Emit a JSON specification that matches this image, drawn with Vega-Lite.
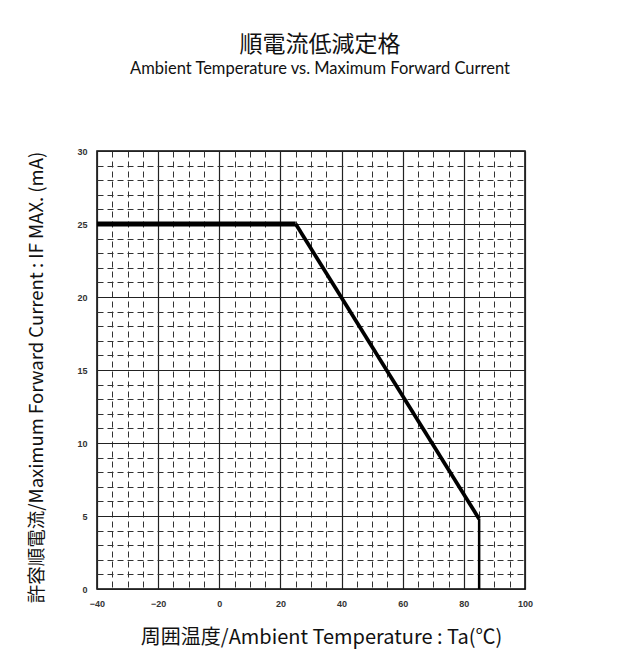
{
  "$schema": "https://vega.github.io/schema/vega-lite/v6.json",
  "width": 428,
  "height": 438,
  "autosize": "none",
  "padding": {"left": 97, "top": 151, "right": 114, "bottom": 79},
  "background": "white",
  "config": {"view": {"stroke": "black", "strokeWidth": 1.5}},
  "title": {
    "text": "順電流低減定格",
    "subtitle": "Ambient Temperature vs. Maximum Forward Current",
    "font": "Noto Sans CJK JP",
    "fontSize": 23,
    "fontWeight": "normal",
    "color": "#111",
    "subtitleFont": "Lato",
    "subtitleFontSize": 16.5,
    "subtitleColor": "#111",
    "subtitlePadding": 4,
    "anchor": "middle",
    "dx": 9,
    "offset": 70
  },
  "data": {
    "values": [
      {"segment": "rated", "t0": -40, "i0": 25, "t1": 25, "i1": 25},
      {"segment": "derating", "t0": 25, "i0": 25, "t1": 85, "i1": 4.8},
      {"segment": "cutoff", "t0": 85, "i0": 4.8, "t1": 85, "i1": 0}
    ]
  },
  "mark": {"type": "rule", "color": "black", "strokeCap": "butt"},
  "encoding": {
    "x": {
      "field": "t0",
      "type": "quantitative",
      "scale": {"domain": [-40, 100], "nice": false, "zero": false},
      "axis": {
        "values": [-40,-35,-30,-25,-20,-15,-10,-5,0,5,10,15,20,25,30,35,40,45,50,55,60,65,70,75,80,85,90,95,100],
        "labelExpr": "datum.value % 20 === 0 ? datum.label : ''",
        "title": "周囲温度/Ambient Temperature : Ta(℃)",
        "titleFont": "Noto Sans CJK JP",
        "titleFontSize": 20,
        "titleFontWeight": "normal",
        "titleColor": "#111",
        "titlePadding": 19,
        "titleX": 224,
        "labelFont": "Liberation Sans",
        "labelFontWeight": "bold",
        "labelFontSize": 9,
        "labelColor": "#333",
        "labelPadding": 10,
        "labelFlush": false,
        "ticks": false,
        "domain": false,
        "grid": true,
        "gridColor": {"condition": {"test": "datum.value % 20 !== 0", "value": "#333"}, "value": "#222"},
        "gridWidth": {"condition": {"test": "datum.value % 20 !== 0", "value": 1}, "value": 1.2},
        "gridDash": {"condition": {"test": "datum.value % 20 !== 0", "value": [6, 4]}, "value": []},
        "gridOpacity": 1
      }
    },
    "y": {
      "field": "i0",
      "type": "quantitative",
      "scale": {"domain": [0, 30], "nice": false},
      "axis": {
        "values": [0,1,2,3,4,5,6,7,8,9,10,11,12,13,14,15,16,17,18,19,20,21,22,23,24,25,26,27,28,29,30],
        "labelExpr": "datum.value % 5 === 0 ? datum.label : ''",
        "title": "許容順電流/Maximum Forward Current : IF MAX. (mA)",
        "titleFont": "Noto Sans CJK JP",
        "titleFontSize": 18.5,
        "titleFontWeight": "normal",
        "titleColor": "#111",
        "titlePadding": 30,
        "titleY": 226,
        "labelFont": "Liberation Sans",
        "labelFontWeight": "bold",
        "labelFontSize": 9,
        "labelColor": "#333",
        "labelPadding": 10,
        "labelFlush": false,
        "ticks": false,
        "domain": false,
        "grid": true,
        "gridColor": {"condition": {"test": "datum.value % 5 !== 0", "value": "#333"}, "value": "#222"},
        "gridWidth": {"condition": {"test": "datum.value % 5 !== 0", "value": 1}, "value": 1.2},
        "gridDash": {"condition": {"test": "datum.value % 5 !== 0", "value": [6, 4]}, "value": []},
        "gridOpacity": 1
      }
    },
    "x2": {"field": "t1"},
    "y2": {"field": "i1"},
    "strokeWidth": {
      "field": "segment",
      "type": "nominal",
      "scale": {"domain": ["rated", "derating", "cutoff"], "range": [5, 2.5, 4]},
      "legend": null
    }
  }
}
